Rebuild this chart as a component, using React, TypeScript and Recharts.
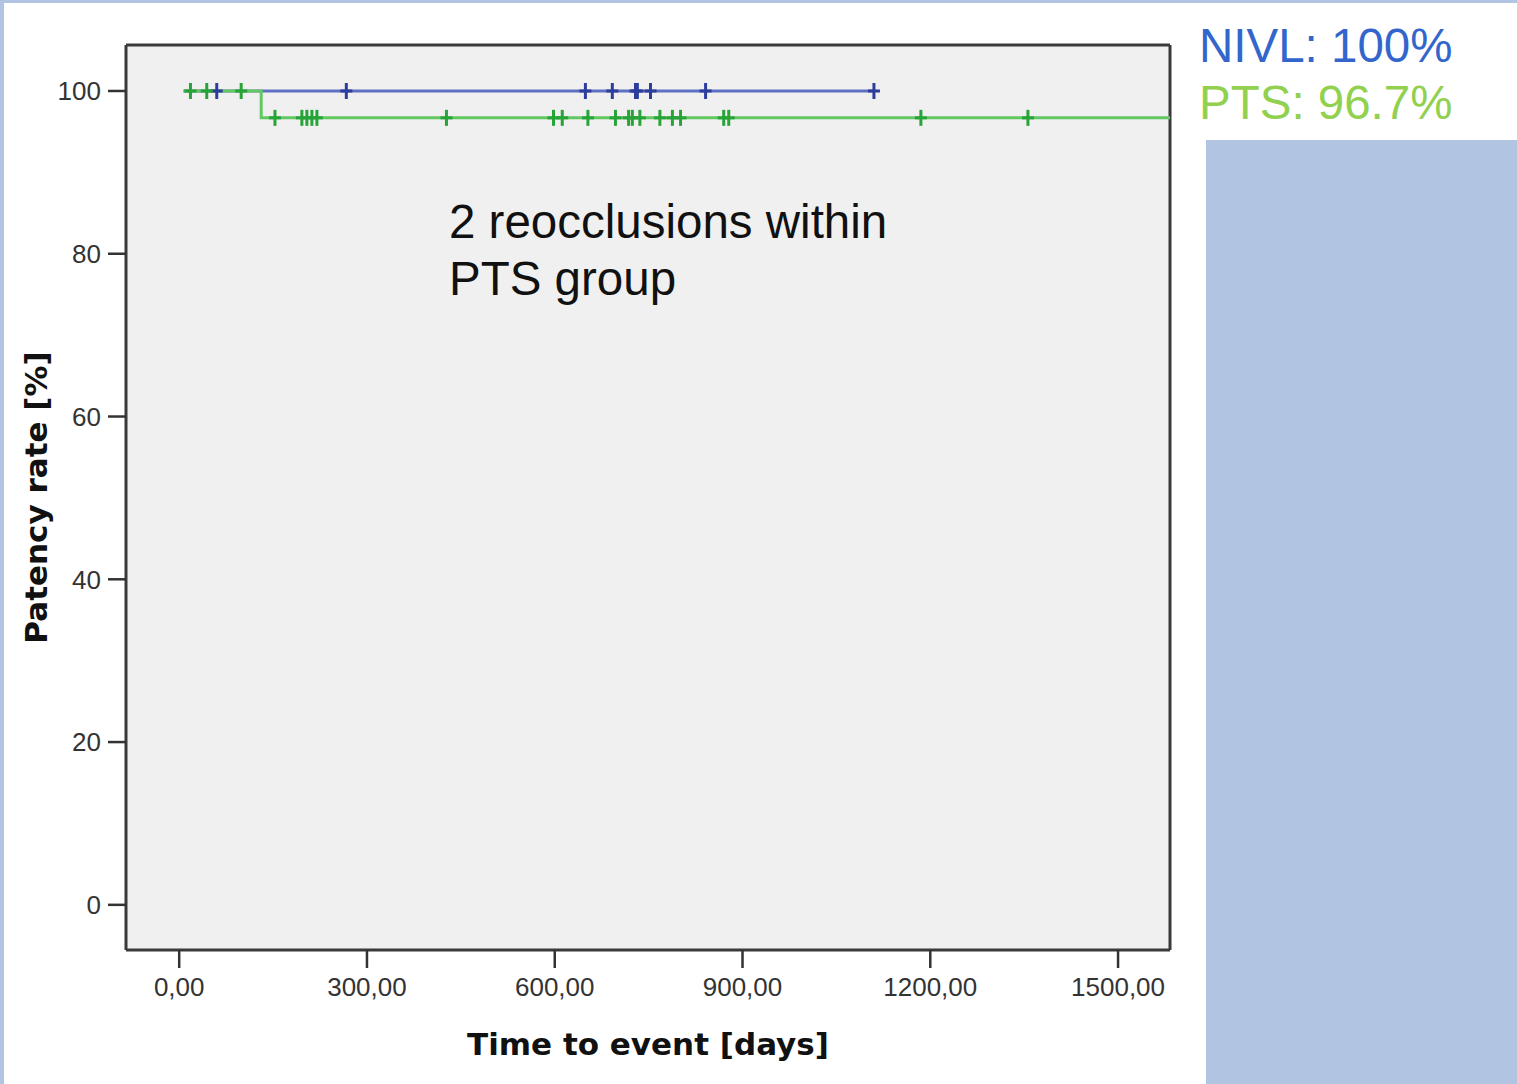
import {
  ComposedChart,
  Line,
  Scatter,
  XAxis,
  YAxis,
  CartesianGrid,
  ReferenceLine,
} from "recharts";

// Kaplan-Meier curves (time in days, patency in %)
const nivlTimes = [7, 1110];
const nivlPatency = [100, 100];
const ptsTimes = [7, 131, 1583];
const ptsPatency = [100, 96.7, 96.7];

// censored observations (days)
const nivlCensored = [60, 267, 649, 692, 729, 732, 753, 841, 1110];
const ptsCensored = [
  18, 44, 99, 153, 196, 204, 212, 220, 427, 598, 612, 653, 697, 718, 724, 736,
  768, 788, 801, 870, 878, 1185, 1356,
];

const xTicks = [0, 300, 600, 900, 1200, 1500];
const yTicks = [0, 20, 40, 60, 80, 100];
const xDomain = [-85, 1583];
const yDomain = [-5.55, 105.65];

const NIVL_LINE = "#5d70c2";
const NIVL_MARK = "#2c3d9c";
const PTS_LINE = "#62c862";
const PTS_MARK = "#27a338";
const FRAME = "#3a3a3a";

const curve = (times: number[], vals: number[]) =>
  times.map((t, i) => ({ t, s: vals[i] }));

// value of the step curve at time t
const stepAt = (times: number[], vals: number[], t: number) => {
  let v = vals[0];
  times.forEach((x, i) => {
    if (x <= t) v = vals[i];
  });
  return v;
};

const censorPoints = (cens: number[], times: number[], vals: number[]) =>
  cens.map((t) => ({ t, s: stepAt(times, vals, t) }));

const plus = (color: string) => (props: any) => {
  const { cx, cy } = props;
  return (
    <g stroke={color} strokeWidth={3}>
      <line x1={cx} y1={cy - 8} x2={cx} y2={cy + 8} />
      <line x1={cx - 6} y1={cy} x2={cx + 6} y2={cy} />
    </g>
  );
};

const fmtDays = (v: number) => v.toFixed(2).replace(".", ",");

const tickStyle = { fontSize: 26, fill: "#333", fontFamily: "Liberation Sans, Arial, sans-serif" };
const titleFont = "DejaVu Sans, Verdana, sans-serif";

function YTitle({ viewBox }: any) {
  const cx = viewBox.x + 36;
  const cy = viewBox.y + viewBox.height / 2;
  return (
    <text
      x={cx}
      y={cy}
      transform={`rotate(-90 ${cx} ${cy})`}
      textAnchor="middle"
      dominantBaseline="central"
      fontFamily={titleFont}
      fontWeight="bold"
      fontSize={31}
      fill="#111"
    >
      Patency rate [%]
    </text>
  );
}

export default function App() {
  const blue = "#b1c5e3";
  return (
    <div
      style={{
        position: "absolute",
        left: 0,
        top: 0,
        width: 1517,
        height: 1084,
        background: blue,
        overflow: "hidden",
      }}
    >
      <div style={{ position: "absolute", left: 4, top: 3, width: 1202, height: 1081, background: "#fff" }} />
      <div style={{ position: "absolute", left: 1206, top: 3, width: 311, height: 137, background: "#fff" }} />

      <div style={{ position: "absolute", left: 0, top: 0 }}>
        <ComposedChart
          width={1206}
          height={1084}
          margin={{ top: 45, right: 36, bottom: 0, left: 0 }}
        >
          <CartesianGrid fill="#f0f0f0" horizontal={false} vertical={false} />
          <XAxis
            dataKey="t"
            type="number"
            domain={xDomain}
            allowDataOverflow
            ticks={xTicks}
            tickFormatter={fmtDays}
            height={134}
            tickSize={18}
            tickMargin={10}
            tick={tickStyle}
            axisLine={{ stroke: FRAME, strokeWidth: 3 }}
            tickLine={{ stroke: "#333", strokeWidth: 2.5 }}
            label={{
              value: "Time to event [days]",
              position: "insideBottom",
              offset: 29,
              fill: "#111",
              fontSize: 31,
              fontWeight: "bold",
              fontFamily: titleFont,
            }}
          />
          <YAxis
            dataKey="s"
            type="number"
            domain={yDomain}
            allowDataOverflow
            ticks={yTicks}
            width={126}
            tickSize={18}
            tickMargin={7}
            tick={tickStyle}
            axisLine={{ stroke: FRAME, strokeWidth: 3 }}
            tickLine={{ stroke: "#333", strokeWidth: 2.5 }}
            label={<YTitle />}
          />
          {/* top and right edges of the plot frame */}
          <ReferenceLine y={yDomain[1]} stroke={FRAME} strokeWidth={3} />
          <ReferenceLine x={xDomain[1]} stroke={FRAME} strokeWidth={3} />
          <Line
            data={curve(nivlTimes, nivlPatency)}
            dataKey="s"
            type="stepAfter"
            stroke={NIVL_LINE}
            strokeWidth={3}
            dot={false}
            isAnimationActive={false}
          />
          <Line
            data={curve(ptsTimes, ptsPatency)}
            dataKey="s"
            type="stepAfter"
            stroke={PTS_LINE}
            strokeWidth={3}
            dot={false}
            isAnimationActive={false}
          />
          <Scatter
            data={censorPoints(nivlCensored, nivlTimes, nivlPatency)}
            dataKey="s"
            shape={plus(NIVL_MARK)}
            isAnimationActive={false}
          />
          <Scatter
            data={censorPoints(ptsCensored, ptsTimes, ptsPatency)}
            dataKey="s"
            shape={plus(PTS_MARK)}
            isAnimationActive={false}
          />
        </ComposedChart>
      </div>

      <div
        style={{
          position: "absolute",
          left: 449,
          top: 193,
          fontFamily: "Liberation Sans, Arial, sans-serif",
          fontSize: 47.5,
          lineHeight: "57px",
          color: "#111",
          whiteSpace: "nowrap",
        }}
      >
        2 reocclusions within
        <br />
        PTS group
      </div>

      <div
        style={{
          position: "absolute",
          left: 1199,
          top: 17,
          fontFamily: "Liberation Sans, Arial, sans-serif",
          fontSize: 47.5,
          lineHeight: "57px",
          whiteSpace: "nowrap",
        }}
      >
        <div style={{ color: "#3366cc" }}>NIVL: 100%</div>
        <div style={{ color: "#92d050" }}>PTS: 96.7%</div>
      </div>
    </div>
  );
}
